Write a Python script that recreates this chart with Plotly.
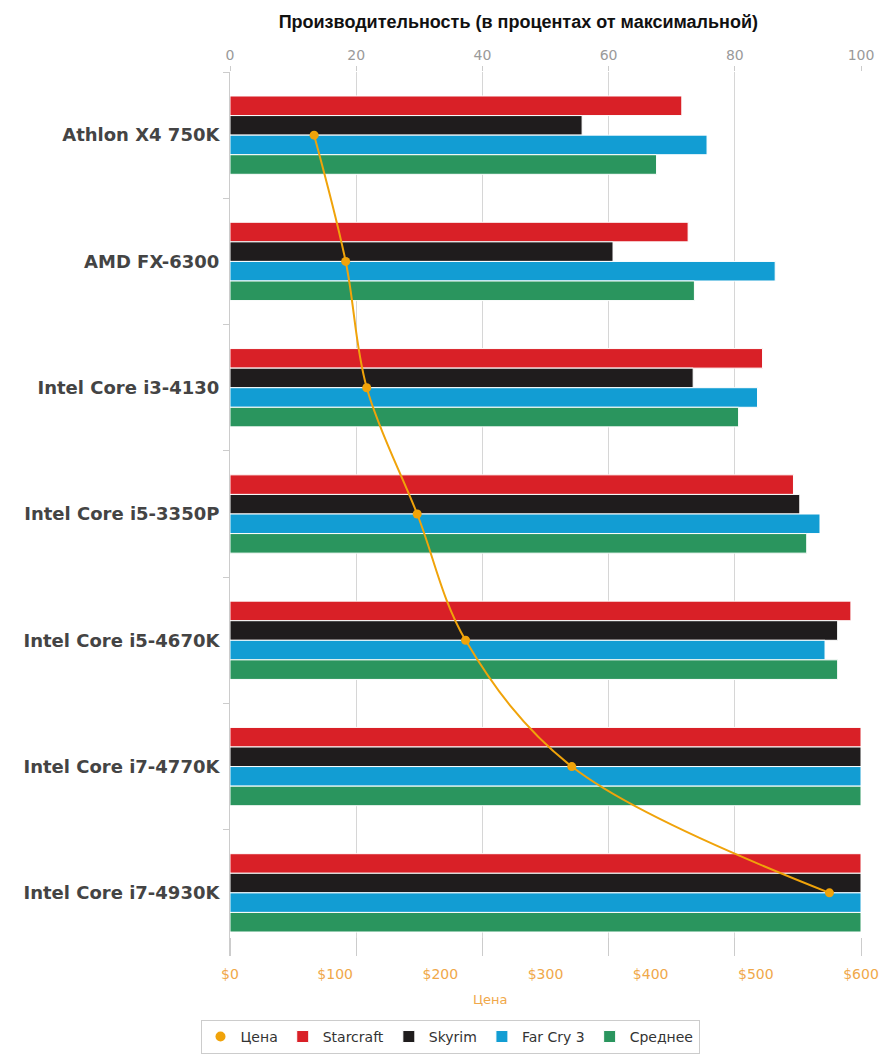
import plotly.graph_objects as go

cpus = ["Athlon X4 750K", "AMD FX-6300", "Intel Core i3-4130", "Intel Core i5-3350P",
        "Intel Core i5-4670K", "Intel Core i7-4770K", "Intel Core i7-4930K"]
starcraft = [71.6, 72.6, 84.4, 89.3, 98.4, 100, 100]
skyrim = [55.8, 60.7, 73.4, 90.3, 96.3, 100, 100]
farcry3 = [75.6, 86.4, 83.6, 93.5, 94.3, 100, 100]
average = [67.6, 73.6, 80.6, 91.4, 96.3, 100, 100]
price = [80, 110, 130, 178, 224, 325, 570]

pct_ticks = [0, 20, 40, 60, 80, 100]
price_ticks = [0, 100, 200, 300, 400, 500, 600]
price_labels = ["$" + str(v) for v in price_ticks]

FONT = "DejaVu Sans"
ORANGE = "#F0A30A"
fig = go.Figure()

fig.add_trace(go.Scatter(
    x=price, y=cpus, name="Цена", xaxis="x2", yaxis="y", mode="lines+markers",
    line=dict(color=ORANGE, width=2, shape="spline", smoothing=1.0),
    marker=dict(color=ORANGE, size=9), showlegend=False, legendgroup="price",
))
fig.add_trace(go.Scatter(
    x=[None], y=[None], name="Цена", xaxis="x2", yaxis="y", mode="markers",
    marker=dict(color=ORANGE, size=10), legendgroup="price",
))

series = [("Starcraft", starcraft, "#D92027"), ("Skyrim", skyrim, "#1F1C1D"),
          ("Far Cry 3", farcry3, "#129DD3"), ("Среднее", average, "#2A955E")]
for name, vals, col in series:
    fig.add_trace(go.Bar(
        x=vals, y=cpus, name=name, orientation="h", xaxis="x", yaxis="y",
        marker=dict(color=col, line=dict(color="white", width=1)),
    ))

fig.update_layout(
    width=883, height=1059,
    margin=dict(l=230, r=22, t=72, b=103, autoexpand=False),
    paper_bgcolor="white", plot_bgcolor="white",
    barmode="group", bargap=0.38, bargroupgap=0.0,
    font=dict(family=FONT, color="#333"),
    title=dict(text="<b>Производительность (в процентах от максимальной)</b>",
               xref="container", x=0.587, xanchor="center",
               yref="container", y=1 - 22 / 1059, yanchor="middle",
               font=dict(family="Liberation Sans", size=18, color="#111")),
    xaxis=dict(side="top", range=[0, 100], tickvals=pct_ticks,
               showgrid=True, gridcolor="#d6d6d6", gridwidth=1,
               zeroline=False, showline=False,
               ticks="outside", ticklen=5, tickcolor="#cccccc",
               tickfont=dict(family=FONT, size=14, color="#9a9a9a")),
    xaxis2=dict(overlaying="x", side="bottom", range=[0, 600],
                tickvals=price_ticks, ticktext=price_labels,
                showgrid=False, zeroline=False, showline=False, ticks="",
                ticklabelstandoff=8,
                minor=dict(tickmode="array", tickvals=[0, 120, 240, 360, 480, 600],
                           ticks="inside", ticklen=18, tickcolor="#cccccc", showgrid=False),
                tickfont=dict(family=FONT, size=14, color="#F0A84A")),
    yaxis=dict(categoryorder="array", categoryarray=cpus, range=[6.5, -0.5],
               showgrid=False, zeroline=False,
               showline=True, linecolor="#cccccc", linewidth=1,
               tickson="boundaries", ticks="outside", ticklen=6, tickcolor="#cccccc",
               ticklabelstandoff=6,
               tickfont=dict(family=FONT, size=18, color="#444", weight="bold")),
    legend=dict(orientation="h", x=(450 - 230) / 631, xanchor="center",
                y=(956 - 1020) / 885, yanchor="top",
                bordercolor="#cccccc", borderwidth=1, bgcolor="white",
                font=dict(family=FONT, size=14, color="#333"),
                itemwidth=30, tracegroupgap=0),
    showlegend=True,
)

fig.add_annotation(text="Цена", xref="paper", yref="paper",
                   x=(490 - 230) / 631, y=(956 - 1000) / 885,
                   showarrow=False, font=dict(family=FONT, size=13, color="#F0A84A"),
                   xanchor="center", yanchor="middle")

fig.write_html("out.html")
